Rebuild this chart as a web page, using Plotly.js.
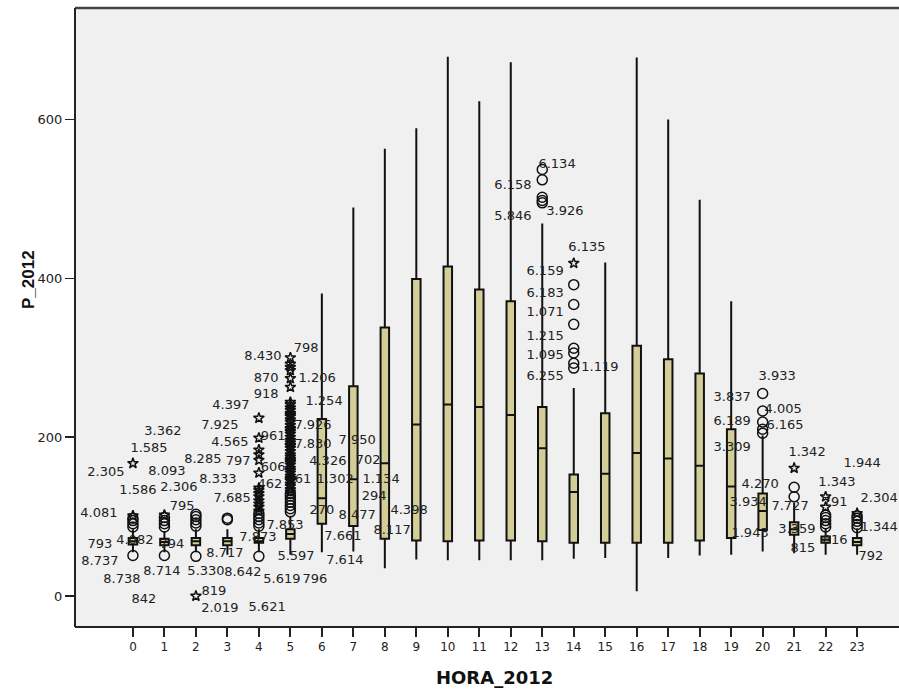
<!DOCTYPE html>
<html>
<head>
<meta charset="utf-8">
<script src="https://cdn.plot.ly/plotly-3.0.1.min.js"></script>
<style>
html,body{margin:0;padding:0;background:#fff;overflow:hidden;}
#chart{width:899px;height:689px;}
</style>
</head>
<body>
<div id="chart"></div>
<script>
// ---- data ----
const hours     = [0,1,2,3,4,5,6,7,8,9,10,11,12,13,14,15,16,17,18,19,20,21,22,23];
const hourTicks = ["0","1","2","3","4","5","6","7","8","9","10","11","12","13","14","15","16","17","18","19","20","21","22","23"];
const q1        = [65,64,64,64,67,72,91,88,72,70,69,70,70,69,67,67,67,67,70,73,83,77,67,64];
const medians   = [69,68,69,69,69,78,123,147,167,216,241,238,228,186,131,154,180,173,164,138,107,84,71,68];
const q3        = [73,72,73,73,73,84,223,264,338,399,415,386,371,238,153,230,315,298,280,210,129,93,75,73];
const lowWhisk  = [55,55,55,52,55,52,55,56,35,46,45,45,45,45,47,48,6,48,51,52,56,54,52,52];
const highWhisk = [84,82,84,84,84,100,381,489,563,589,679,623,672,469,262,420,678,600,499,371,202,117,85,85];

// outliers (circles)
const circleHour = [0,0,0,0,0, 1,1,1,1,1, 2,2,2,2,2,2, 3,3, 4,4,4,4,4,4,
                    5,5,5,5,5,5,5, 13,13,13,13,13, 14,14,14,14,14,14,14,
                    20,20,20,20,20, 21,21, 22,22,22,22,22, 23,23,23,23,23];
const circleVal  = [51,87,91,95,98, 51,87,91,95,99, 50,88,92,96,100,103, 96,98, 50,88,92,96,100,104,
                    106,110,114,118,122,126,129, 537,524,502,498,495, 392,367,342,312,306,293,287,
                    255,233,219,210,205, 137,125, 87,91,95,99,102, 86,90,94,98,101];
// extremes (stars)
const starHour = [0,0,1,2,
                  4,4,4,4,4,4,4,4,4,4,4,4,4,4,
                  5,5,5,5,5,5,5,5,5,5,5,5,5,5,5,5,5,5,5,5,5,5,5,5,5,5,5,5,5,5,5,5,5,5,5,5,5,5,5,5,5,5,5,5,
                  14,21,22,22,23];
const starVal  = [101,167,102,0,
                  107,112,116,120,125,129,133,155,171,178,184,199,224,136,
                  131,134,138,141,145,148,151,155,158,161,165,168,172,175,178,182,186,189,193,196,200,204,207,211,215,219,222,226,230,234,237,241,244,263,274,284,288,292,300,147,170,190,210,228,
                  419,161,112,125,104];

// case labels
const labelText = ["3.362","1.585","2.305","8.093","1.586","2.306","795","4.081","793","4.082","794","8.737","8.738","8.714","5.330","8.642","842","819","2.019","5.621","8.717","7.873","7.853","5.597","5.619","796","7.685","8.333","8.285","797","4.565","7.925","4.397","918","606","462","961","8.430","798","870","1.206","1.254","7.926",
                   "7.830","7.950","4.326","702","461","1.302","1.134","270","294","8.477","4.398","8.117","7.661","7.614",
                   "6.134","6.158","5.846","3.926","6.135","6.159","6.183","1.071","1.215","1.095","1.119","6.255",
                   "3.933","3.837","4.005","6.189","6.165","3.309","4.270","3.934","1.943",
                   "1.342","7.727","3.359","815","1.343","791","816","1.944","2.304","1.344","792"];
const labelX = [0.95,0.51,-0.86,1.08,0.16,1.46,1.56,-1.08,-1.05,0.06,1.24,-1.05,-0.35,0.92,2.32,3.49,0.35,2.57,2.76,4.26,2.92,3.97,4.83,5.18,4.73,5.78,3.15,2.70,2.22,3.34,3.08,2.76,3.11,4.23,4.45,4.35,4.45,4.13,5.50,4.23,5.85,6.07,5.72,
                5.72,7.12,6.19,7.47,5.27,6.42,7.88,6.00,7.66,7.12,8.77,8.23,6.67,6.73,
                13.47,12.07,12.07,13.72,14.42,13.09,13.09,13.09,13.09,13.09,14.83,13.09,
                20.46,19.03,20.65,19.03,20.71,19.03,19.92,19.54,19.60,
                21.41,20.87,21.09,21.28,22.36,22.30,22.30,23.16,23.70,23.70,23.44];
const labelY = [207,185,155,157,133,136,112,104,65,69,65,43,20,30,31,29,-5,6,-16,-15,53,73,88,50,20,20,123,146,171,169,193,214,240,253,162,140,201,301,311,273,274,245,215,
                191,195,169,170,147,147,146,107,125,101,107,82,74,45,
                543,516,477,484,438,408,381,357,327,302,287,276,
                276,249,235,219,215,187,140,117,78,
                181,112,84,60,143,118,69,166,123,86,49];

// ---- traces ----
const boxTrace = {
  type: 'box',
  x: hours,
  q1: q1,
  median: medians,
  q3: q3,
  lowerfence: lowWhisk,
  upperfence: highWhisk,
  boxpoints: false,
  width: 0.27,
  whiskerwidth: 0,
  fillcolor: '#D3CE97',
  line: {color: '#111111', width: 2},
  hoverinfo: 'skip'
};
const labelTrace = {
  type: 'scatter', mode: 'text',
  x: labelX, y: labelY, text: labelText,
  textposition: 'middle center',
  textfont: {family: 'DejaVu Sans, Liberation Sans, sans-serif', size: 13, color: '#222'},
  hoverinfo: 'skip', cliponaxis: false
};
const circleTrace = {
  type: 'scatter', mode: 'markers',
  x: circleHour, y: circleVal,
  marker: {symbol: 'circle-open', size: 10, color: '#111', line: {width: 1.5, color: '#111'}},
  hoverinfo: 'skip'
};
const starTrace = {
  type: 'scatter', mode: 'markers',
  x: starHour, y: starVal,
  marker: {symbol: 'star-open', size: 8, color: '#111', line: {width: 1.5, color: '#111'}},
  hoverinfo: 'skip'
};

const layout = {
  width: 899, height: 689,
  margin: {l: 75, r: 0, t: 8, b: 62},
  paper_bgcolor: '#ffffff',
  plot_bgcolor: '#F0F0F0',
  showlegend: false,
  hovermode: false,
  xaxis: {
    range: [-1.84, 24.33],
    tickvals: hours, ticktext: hourTicks,
    ticks: 'outside', ticklen: 9, tickwidth: 2, tickcolor: '#222',
    showgrid: false, zeroline: false, showline: false,
    tickfont: {family: 'DejaVu Sans, Liberation Sans, sans-serif', size: 12, color: '#222'}
  },
  yaxis: {
    range: [-39, 740.3],
    tickvals: [0, 200, 400, 600], ticktext: ['0', '200', '400', '600'],
    ticks: 'outside', ticklen: 9, tickwidth: 1.5, tickcolor: '#222',
    showgrid: false, zeroline: false, showline: false,
    tickfont: {family: 'DejaVu Sans, Liberation Sans, sans-serif', size: 13, color: '#222'}
  },
  shapes: [
    {type: 'line', xref: 'paper', yref: 'paper', x0: 0, x1: 1, y0: 1, y1: 1, line: {color: '#444', width: 2.5}},
    {type: 'line', xref: 'paper', yref: 'paper', x0: 0, x1: 0, y0: 0, y1: 1, line: {color: '#222', width: 2}},
    {type: 'line', xref: 'paper', yref: 'paper', x0: 0, x1: 1, y0: 0, y1: 0, line: {color: '#222', width: 2}}
  ],
  annotations: [
    {text: '<b>HORA_2012</b>', xref: 'paper', yref: 'paper', x: 0.5085, y: -0.0808,
     xanchor: 'center', yanchor: 'middle', showarrow: false,
     font: {family: 'DejaVu Sans, Liberation Sans, sans-serif', size: 18, color: '#111'}},
    {text: '<b>P_2012</b>', xref: 'paper', yref: 'paper', x: -0.0558, y: 0.5606,
     xanchor: 'center', yanchor: 'middle', showarrow: false, textangle: -90,
     font: {family: 'Liberation Sans Narrow, Arial Narrow, Liberation Sans, sans-serif', size: 17, color: '#111'}}
  ]
};

Plotly.newPlot('chart', [boxTrace, labelTrace, circleTrace, starTrace], layout, {staticPlot: true, displayModeBar: false});
</script>
</body>
</html>
